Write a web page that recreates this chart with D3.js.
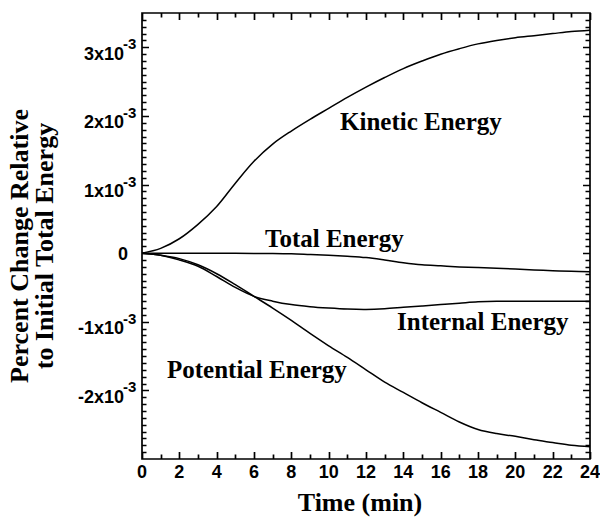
<!DOCTYPE html>
<html>
<head>
<meta charset="utf-8">
<script src="https://cdn.jsdelivr.net/npm/d3@7"></script>
<style>
  html, body { margin: 0; padding: 0; background: #fff; }
  svg { display: block; }
</style>
</head>
<body>
<svg id="chart" width="600" height="518" xmlns="http://www.w3.org/2000/svg"></svg>
<script>
// Time grid (minutes)
const times = [0,1,2,3,4,5,6,7,8,9,10,11,12,13,14,15,16,17,18,19,20,21,22,23,24];

// Percent change relative to initial total energy, in units of 1e-3
const kinetic   = [0,0.07,0.21,0.42,0.68,1.02,1.34,1.59,1.78,1.95,2.11,2.27,2.42,2.56,2.69,2.80,2.90,2.98,3.05,3.10,3.14,3.17,3.20,3.23,3.25];
const total     = [0,0,0,0,0,-0.003,-0.005,-0.006,-0.01,-0.02,-0.03,-0.045,-0.065,-0.10,-0.14,-0.17,-0.185,-0.20,-0.21,-0.22,-0.23,-0.245,-0.255,-0.265,-0.27];
const internal  = [0,-0.03,-0.10,-0.19,-0.34,-0.50,-0.63,-0.70,-0.75,-0.78,-0.80,-0.815,-0.82,-0.81,-0.79,-0.77,-0.75,-0.73,-0.71,-0.70,-0.70,-0.70,-0.70,-0.70,-0.70];
const potential = [0,-0.03,-0.08,-0.17,-0.30,-0.46,-0.63,-0.80,-0.98,-1.17,-1.35,-1.52,-1.70,-1.88,-2.03,-2.18,-2.32,-2.46,-2.57,-2.63,-2.67,-2.72,-2.76,-2.80,-2.82];

// Axis ticks and labels
const xMajor = [0,2,4,6,8,10,12,14,16,18,20,22,24];
const xMinor = [1,3,5,7,9,11,13,15,17,19,21,23];
const yMajor = [-2,-1,0,1,2,3];
const yMinor = [-2.9,-2.8,-2.7,-2.6,-2.5,-2.4,-2.3,-2.2,-2.1,-1.9,-1.8,-1.7,-1.6,-1.5,-1.4,-1.3,-1.2,-1.1,-0.9,-0.8,-0.7,-0.6,-0.5,-0.4,-0.3,-0.2,-0.1,0.1,0.2,0.3,0.4,0.5,0.6,0.7,0.8,0.9,1.1,1.2,1.3,1.4,1.5,1.6,1.7,1.8,1.9,2.1,2.2,2.3,2.4,2.5,2.6,2.7,2.8,2.9,3.1,3.2,3.3,3.4];
const yMantissa = ["-2","-1","0","1","2","3"];
const yExponent = "-3";

const seriesNames = ["Kinetic Energy","Total Energy","Internal Energy","Potential Energy"];
const seriesValues = [kinetic, total, internal, potential];

const xTitle = "Time (min)";
const yTitle = ["Percent Change Relative", "to Initial Total Energy"];

const svg = d3.select("#chart");
const L = 142, R = 590, T = 13, B = 459;

const xScale = d3.scaleLinear().domain([0, 24]).range([L, R]);
const yScale = d3.scaleLinear().domain([-3, 3.5]).range([B, T]);

const sansFont = "'Liberation Sans', Arial, Helvetica, sans-serif";
const serifFont = "'Liberation Serif', 'Times New Roman', Times, serif";

// Frame and inward tick marks on all four sides, built as one path
const p = d3.path();
p.rect(L, T, R - L, B - T);
function hTick(v, len) {
  const px = Math.round(xScale(v)) + 0.5;
  p.moveTo(px, B); p.lineTo(px, B - len);
  p.moveTo(px, T); p.lineTo(px, T + len);
}
function vTick(v, len) {
  const py = Math.round(yScale(v)) + 0.5;
  p.moveTo(L, py); p.lineTo(L + len, py);
  p.moveTo(R, py); p.lineTo(R - len, py);
}
xMajor.forEach(v => hTick(v, 7));
xMinor.forEach(v => hTick(v, 4.5));
yMajor.forEach(v => vTick(v, 7));
yMinor.forEach(v => vTick(v, 4.5));
svg.append("path").attr("d", p.toString())
  .attr("fill", "none").attr("stroke", "#000").attr("stroke-width", 1.7);

// X tick labels
svg.append("g").attr("font-family", sansFont).attr("font-weight", "bold").attr("font-size", 18)
  .attr("text-anchor", "middle").attr("fill", "#000")
  .selectAll("text").data(xMajor).join("text")
  .attr("x", d => xScale(d)).attr("y", B + 19).text(d => d3.format("d")(d));

// Y tick labels in scientific notation with superscript exponent
const yl = svg.append("g").attr("font-family", sansFont).attr("font-weight", "bold").attr("fill", "#000");
yMajor.forEach((v, i) => {
  if (v === 0) {
    yl.append("text").attr("x", 128).attr("y", yScale(v) + 6.5)
      .attr("text-anchor", "end").attr("font-size", 18).text(yMantissa[i]);
  } else {
    yl.append("text").attr("x", 124).attr("y", yScale(v) + 12.5)
      .attr("text-anchor", "end").attr("font-size", 18).text(yMantissa[i] + "x10");
    yl.append("text").attr("x", 123).attr("y", yScale(v) + 2)
      .attr("text-anchor", "start").attr("font-size", 15).text(yExponent);
  }
});

// Energy curves
const line = d3.line().x((d, i) => xScale(times[i])).y(d => yScale(d)).curve(d3.curveCatmullRom.alpha(0.5));
svg.append("g").selectAll("path").data(seriesValues).join("path")
  .attr("d", line).attr("fill", "none").attr("stroke", "#000").attr("stroke-width", 1.5);

// Curve labels
const labelPos = [[340, 130], [265, 247], [397, 330], [167, 378]];
svg.append("g").attr("font-family", serifFont).attr("font-weight", "bold").attr("font-size", 25).attr("fill", "#000")
  .selectAll("text").data(seriesNames).join("text")
  .attr("x", (d, i) => labelPos[i][0]).attr("y", (d, i) => labelPos[i][1]).text(d => d);

// Axis titles
svg.append("text").attr("x", (L + R) / 2 - 6).attr("y", 511).attr("text-anchor", "middle")
  .attr("font-family", serifFont).attr("font-weight", "bold").attr("font-size", 26).text(xTitle);

const yt = svg.append("g").attr("transform", "translate(0,246) rotate(-90)")
  .attr("font-family", serifFont).attr("font-weight", "bold").attr("font-size", 26).attr("text-anchor", "middle");
yt.append("text").attr("x", 0).attr("y", 28).text(yTitle[0]);
yt.append("text").attr("x", 0).attr("y", 53).text(yTitle[1]);
</script>
</body>
</html>
